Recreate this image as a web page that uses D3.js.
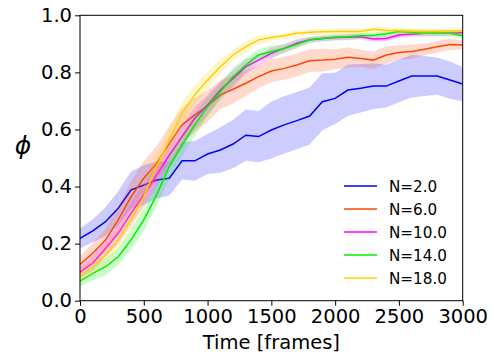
<!DOCTYPE html>
<html>
<head>
<meta charset="utf-8">
<script src="https://cdn.jsdelivr.net/npm/d3@7"></script>
<style>
  body { margin: 0; background: #fff; }
  text { font-family: "DejaVu Sans", sans-serif; fill: #000; }
</style>
</head>
<body>
<svg id="chart" width="494" height="358"></svg>
<script>
const times = d3.range(0, 3001, 100);
const seriesNames = ['N=2.0', 'N=6.0', 'N=10.0', 'N=14.0', 'N=18.0'];
const seriesColors = ['#0000ff', '#ff4500', '#ff00ff', '#00ee00', '#ffd000'];

const meanN2 = [0.218, 0.245, 0.277, 0.324, 0.388, 0.405, 0.423, 0.429, 0.49, 0.49, 0.514,
  0.528, 0.549, 0.58, 0.575, 0.598, 0.616, 0.631, 0.647, 0.697, 0.709,
  0.738, 0.744, 0.752, 0.752, 0.77, 0.787, 0.787, 0.787, 0.773, 0.759];
const sdN2 = [0.035, 0.04, 0.05, 0.06, 0.065, 0.07, 0.065, 0.06, 0.065, 0.07, 0.07,
  0.08, 0.085, 0.09, 0.09, 0.1, 0.1, 0.1, 0.1, 0.1, 0.09,
  0.09, 0.085, 0.08, 0.075, 0.075, 0.075, 0.07, 0.065, 0.065, 0.06];

const meanN6 = [0.127, 0.166, 0.213, 0.283, 0.364, 0.429, 0.481, 0.551, 0.616, 0.651, 0.682,
  0.721, 0.741, 0.762, 0.785, 0.805, 0.814, 0.826, 0.841, 0.843, 0.846,
  0.853, 0.849, 0.843, 0.861, 0.87, 0.873, 0.881, 0.89, 0.898, 0.896];
const sdN6 = [0.03, 0.035, 0.04, 0.045, 0.055, 0.06, 0.06, 0.06, 0.06, 0.06, 0.055,
  0.05, 0.05, 0.045, 0.04, 0.04, 0.04, 0.04, 0.04, 0.04, 0.035,
  0.035, 0.03, 0.03, 0.03, 0.025, 0.025, 0.02, 0.02, 0.02, 0.015];

const meanN10 = [0.10, 0.131, 0.183, 0.236, 0.306, 0.37, 0.44, 0.51, 0.575, 0.639, 0.686,
  0.738, 0.779, 0.82, 0.843, 0.867, 0.884, 0.902, 0.914, 0.919, 0.922,
  0.923, 0.925, 0.917, 0.919, 0.931, 0.934, 0.937, 0.937, 0.938, 0.939];
const sdN10 = [0.02, 0.025, 0.03, 0.035, 0.04, 0.04, 0.04, 0.04, 0.04, 0.04, 0.035,
  0.03, 0.03, 0.025, 0.02, 0.02, 0.015, 0.015, 0.01, 0.01, 0.01,
  0.01, 0.01, 0.01, 0.01, 0.01, 0.01, 0.01, 0.01, 0.01, 0.01];

const meanN14 = [0.069, 0.096, 0.119, 0.154, 0.213, 0.283, 0.37, 0.47, 0.546, 0.616, 0.68,
  0.732, 0.785, 0.826, 0.861, 0.873, 0.884, 0.898, 0.914, 0.919, 0.923,
  0.925, 0.928, 0.93, 0.935, 0.943, 0.94, 0.937, 0.937, 0.937, 0.928];
const sdN14 = [0.02, 0.025, 0.03, 0.03, 0.035, 0.04, 0.04, 0.04, 0.04, 0.04, 0.035,
  0.03, 0.03, 0.025, 0.02, 0.02, 0.015, 0.015, 0.01, 0.01, 0.01,
  0.01, 0.01, 0.01, 0.01, 0.01, 0.01, 0.01, 0.01, 0.01, 0.01];

const meanN18 = [0.086, 0.119, 0.16, 0.213, 0.283, 0.364, 0.47, 0.563, 0.657, 0.721, 0.773,
  0.82, 0.861, 0.89, 0.914, 0.922, 0.928, 0.937, 0.941, 0.942, 0.943,
  0.943, 0.943, 0.951, 0.948, 0.946, 0.945, 0.943, 0.944, 0.945, 0.946];
const sdN18 = [0.02, 0.025, 0.03, 0.035, 0.04, 0.04, 0.04, 0.04, 0.04, 0.035, 0.03,
  0.025, 0.02, 0.02, 0.015, 0.01, 0.01, 0.01, 0.01, 0.01, 0.01,
  0.01, 0.01, 0.01, 0.01, 0.01, 0.01, 0.01, 0.01, 0.01, 0.01];

const xTicks = [0, 500, 1000, 1500, 2000, 2500, 3000];
const yTicks = [0, 0.2, 0.4, 0.6, 0.8, 1.0];

const means = [meanN2, meanN6, meanN10, meanN14, meanN18];
const sds = [sdN2, sdN6, sdN10, sdN14, sdN18];

const svg = d3.select('#chart');
const plotLeft = 80, plotRight = 462.7, plotTop = 15.3, plotBottom = 300.7;

const x = d3.scaleLinear().domain([0, 3000]).range([plotLeft, plotRight]);
const y = d3.scaleLinear().domain([0, 1]).range([plotBottom, plotTop]);

const series = seriesNames.map((name, i) => ({
  name: name,
  color: seriesColors[i],
  points: times.map((t, j) => ({ t: t, m: means[i][j], s: sds[i][j] }))
}));

const area = d3.area()
  .x(p => x(p.t))
  .y0(p => y(p.m - p.s))
  .y1(p => y(p.m + p.s));

const line = d3.line()
  .x(p => x(p.t))
  .y(p => y(p.m));

svg.append('clipPath').attr('id', 'clip')
  .append('rect')
  .attr('x', plotLeft).attr('y', plotTop)
  .attr('width', plotRight - plotLeft).attr('height', plotBottom - plotTop);

const plot = svg.append('g').attr('clip-path', 'url(#clip)');

series.forEach(s => {
  plot.append('path')
    .attr('d', area(s.points))
    .attr('fill', s.color)
    .attr('fill-opacity', 0.2);
  plot.append('path')
    .attr('d', line(s.points))
    .attr('fill', 'none')
    .attr('stroke', s.color)
    .attr('stroke-width', 1.5);
});

// axes
const xAxis = svg.append('g')
  .attr('transform', `translate(0,${plotBottom})`)
  .call(d3.axisBottom(x).tickValues(xTicks).tickFormat(d3.format('d')).tickSize(5).tickPadding(3));
const yAxis = svg.append('g')
  .attr('transform', `translate(${plotLeft},0)`)
  .call(d3.axisLeft(y).tickValues(yTicks).tickFormat(d3.format('.1f')).tickSize(5).tickPadding(3));

[xAxis, yAxis].forEach(a => {
  a.selectAll('text').attr('font-size', 19.5).attr('font-family', 'DejaVu Sans').attr('fill', '#000');
  a.selectAll('line').attr('stroke', '#000').attr('stroke-width', 1);
  a.select('.domain').remove();
});

// frame
svg.append('rect')
  .attr('x', plotLeft).attr('y', plotTop)
  .attr('width', plotRight - plotLeft).attr('height', plotBottom - plotTop)
  .attr('fill', 'none')
  .attr('stroke', '#000')
  .attr('stroke-width', 1);

svg.append('text')
  .attr('x', (plotLeft + plotRight) / 2)
  .attr('y', 348.5)
  .attr('text-anchor', 'middle')
  .attr('font-size', 19.5)
  .text('Time [frames]');

svg.append('text')
  .attr('x', 23)
  .attr('y', 154)
  .attr('text-anchor', 'middle')
  .attr('font-size', 25)
  .attr('font-style', 'italic')
  .text('ϕ');

// legend
const legend = svg.append('g');
series.forEach((s, i) => {
  const ly = 186 + i * 23;
  legend.append('line')
    .attr('x1', 344).attr('x2', 377)
    .attr('y1', ly).attr('y2', ly)
    .attr('stroke', s.color)
    .attr('stroke-width', 1.5);
  legend.append('text')
    .attr('x', 389)
    .attr('y', ly + 5.5)
    .attr('font-size', 15.2)
    .text(s.name);
});
</script>
</body>
</html>
